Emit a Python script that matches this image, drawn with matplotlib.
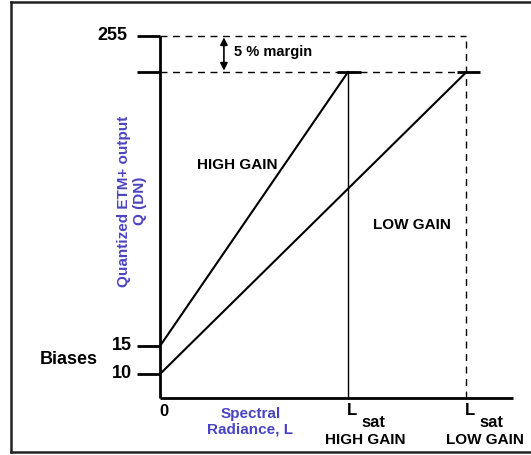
import numpy as np
import matplotlib
matplotlib.use("Agg")
import matplotlib.pyplot as plt

plt.rcParams["font.family"] = ["Liberation Sans", "DejaVu Sans"]
plt.rcParams["font.weight"] = "bold"

# quantized output levels (DN)
bias_high = 15
bias_low = 10
q_max = 255
q_sat = 242  # 5 % margin below 255

# spectral radiance (normalised to L_sat of high gain)
l_sat_high = 1.0
l_sat_low = 1.63
l_axis_end = 1.88

blue = "#4a44c0"

# schematic (non linear) vertical layout of the DN levels
q_anchor = [-50, 0, 10, 15, 242, 255, 400]
h_anchor = [-63, 57, 81, 109, 383, 419, 820]


def fwd(v):
    return np.interp(v, q_anchor, h_anchor)


def inv(h):
    return np.interp(h, h_anchor, q_anchor)


fig = plt.figure(figsize=(5.31, 4.55), dpi=100)
ax = fig.add_axes([0, 0, 1, 1])
ax.set_yscale("function", functions=(fwd, inv))
ax.set_xlim(-160 / 188, 371 / 188)
ax.set_ylim(inv(0), inv(455))
ax.axis("off")

k = "black"
# axes
ax.plot([0, 0], [0, q_max], color=k, lw=2, solid_capstyle="butt")
ax.plot([0, l_axis_end], [0, 0], color=k, lw=2, solid_capstyle="butt")

# tick marks on Q axis
for q in [bias_low, bias_high, q_sat, q_max]:
    ax.plot([-0.122, 0], [q, q], color=k, lw=2, solid_capstyle="butt")

# dashed guide lines
ax.plot([0, l_sat_low], [q_max, q_max], color=k, lw=1, ls=(0, (5, 4)))
ax.plot([0, 1.70], [q_sat, q_sat], color=k, lw=1, ls=(0, (5, 4)))
ax.plot([l_sat_low, l_sat_low], [0, q_max], color=k, lw=1, ls=(0, (5, 4)))

# saturation caps
ax.plot([0.94, 1.07], [q_sat, q_sat], color=k, lw=2, solid_capstyle="butt")
ax.plot([1.58, 1.70], [q_sat, q_sat], color=k, lw=2, solid_capstyle="butt")

# L_sat high gain
ax.plot([l_sat_high, l_sat_high], [0, q_sat], color=k, lw=1)

# gain lines
ax.plot([0, l_sat_high], [bias_high, q_sat], color=k, lw=1.5)
ax.plot([0, l_sat_low], [bias_low, q_sat], color=k, lw=1.5)

# 5 % margin arrow
ax.annotate("", xy=(0.34, q_max - 0.5), xytext=(0.34, q_sat + 0.5),
            arrowprops=dict(arrowstyle="<|-|>", color=k, lw=1.2,
                            mutation_scale=11, shrinkA=0, shrinkB=0))
ax.text(0.395, 249.2, "5 % margin", fontsize=10.5, va="center", ha="left")

# labels
ax.text(-0.176, q_max, "255", fontsize=13, ha="right", va="center")
ax.text(-0.149, bias_high, "15", fontsize=13, ha="right", va="center")
ax.text(-0.149, bias_low, "10", fontsize=13, ha="right", va="center")
ax.text(-0.484, 12.6, "Biases", fontsize=13, ha="center", va="center")
ax.text(0.02, -5.8, "0", fontsize=12, ha="center", va="center")

ax.text(-0.149, 135, "Quantized ETM+ output\nQ (DN)", fontsize=11,
        color=blue, rotation=90, ha="center", va="center",
        multialignment="center", linespacing=1.2)
ax.text(0.48, -9.8, "Spectral\nRadiance, L", fontsize=11, color=blue,
        ha="center", va="center", multialignment="center", linespacing=1.1)

ax.text(0.197, 165, "HIGH GAIN", fontsize=11, ha="left", va="center")
ax.text(1.133, 115, "LOW GAIN", fontsize=11, ha="left", va="center")

for xs, name in [(l_sat_high, "HIGH GAIN"), (l_sat_low, "LOW GAIN")]:
    ax.text(xs + 0.02, -5.4, "L", fontsize=12, ha="center", va="center")
    ax.text(xs + 0.07, -10.2, "sat", fontsize=12, ha="left", va="center")
    ax.text(xs + 0.09 + (0.01 if name == "LOW GAIN" else 0), -17.5, name,
            fontsize=11, ha="center", va="center")

# outer frame
for xy in [([11, 11], [2, 452]), ([11, 531], [2, 2]), ([11, 531], [452, 452])]:
    fig.add_artist(plt.Line2D(np.array(xy[0]) / 531, 1 - np.array(xy[1]) / 455,
                              color="#222222", lw=1.8))

fig.savefig("out.png", dpi=100)
